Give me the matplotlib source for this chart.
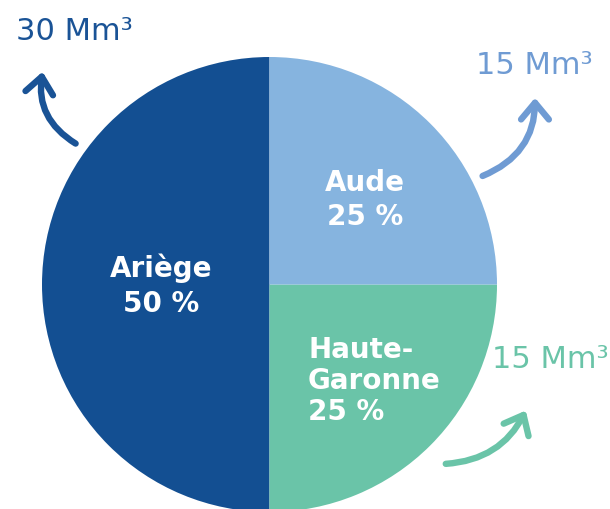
import matplotlib
matplotlib.use("Agg")
import matplotlib.pyplot as plt
from matplotlib.patches import FancyArrowPatch

# valeurs du graphique
regions = ["Ariège", "Haute-Garonne", "Aude"]
parts = [50, 25, 25]
volumes = ["30 Mm³", "15 Mm³", "15 Mm³"]
couleurs = ["#134f92", "#6ac4a8", "#86b4df"]
couleurs_txt = ["#1a5396", "#6ac4a8", "#6f9bd3"]

plt.rcParams['font.family'] = ['DejaVu Sans']

W, H = 610, 510
fig = plt.figure(figsize=(6.1, 5.1), dpi=100)
ax = fig.add_axes([0, 0, 1, 1])


def py(y):
    # pixel y (haut -> bas) vers y donnees
    return H - y


ax.pie(parts, colors=couleurs, startangle=90, counterclock=True,
       center=(269.5, py(285.5)), radius=227.5,
       wedgeprops=dict(linewidth=0))

ax.set_xlim(0, W)
ax.set_ylim(0, H)
ax.set_aspect('equal')
ax.axis('off')

lab = dict(color='white', fontsize=20, fontweight='bold')
ax.text(161, py(286), "%s\n%d %%" % (regions[0], parts[0]), ha='center', va='center',
        ma='center', linespacing=1.3, **lab)
ax.text(365, py(200), "%s\n%d %%" % (regions[2], parts[2]), ha='center', va='center',
        ma='center', linespacing=1.3, **lab)
ax.text(308, py(381), "Haute-\nGaronne\n%d %%" % parts[1], ha='left', va='center',
        ma='left', linespacing=1.12, **lab)

vol = dict(fontsize=22, fontweight='normal')
ax.text(74, py(32), volumes[0], ha='center', va='center', color=couleurs_txt[0], **vol)
ax.text(534, py(65), volumes[2], ha='center', va='center', color=couleurs_txt[2], **vol)
ax.text(550, py(360), volumes[1], ha='center', va='center', color=couleurs_txt[1], **vol)

fleches = [
    ((78, 146), (43, 70), -0.35, couleurs_txt[0]),
    ((480, 178), (535, 96), 0.35, couleurs_txt[2]),
    ((443, 465), (527, 409), 0.3, couleurs_txt[1]),
]
for (x0, y0), (x1, y1), rad, c in fleches:
    a = FancyArrowPatch((x0, py(y0)), (x1, py(y1)),
                        connectionstyle="arc3,rad=%s" % rad,
                        arrowstyle="->,head_length=0.6,head_width=0.5",
                        mutation_scale=20, linewidth=4.6, color=c,
                        capstyle='round', joinstyle='round')
    ax.add_patch(a)

fig.savefig("out.png", dpi=100)
